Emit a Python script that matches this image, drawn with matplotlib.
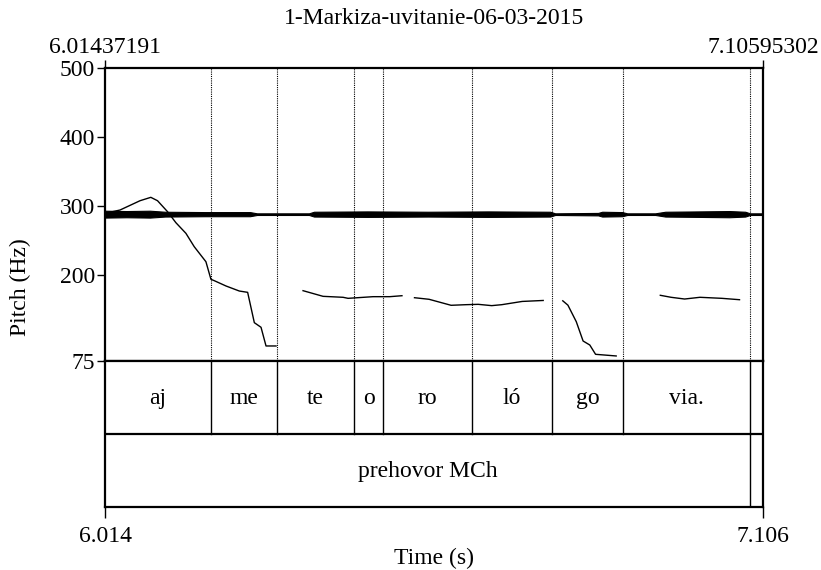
import matplotlib
matplotlib.use("Agg")
import matplotlib.pyplot as plt
import numpy as np

plt.rcParams['font.family'] = ['Liberation Serif', 'DejaVu Serif']

# ---------------- data ----------------
title = "1-Markiza-uvitanie-06-03-2015"
t_start = 6.01437191
t_end = 7.10595302

# syllable tier boundaries and labels
syl_bounds = [6.01437191, 6.1902, 6.2997, 6.4275, 6.4756, 6.6232, 6.7559, 6.8737, 7.0844, 7.10595302]
syl_labels = ["aj", "me", "te", "o", "ro", "ló", "go", "via.", ""]

# phrase tier
phr_bounds = [6.01437191, 7.0844, 7.10595302]
phr_labels = ["prehovor MCh", ""]

# pitch contour segments (time s, Hz)
pitch_segments = [
    ([6.0144, 6.0393, 6.0725, 6.0904, 6.1015, 6.1181, 6.1320, 6.1486, 6.1624, 6.1818, 6.1901, 6.1957, 6.2151, 6.2372, 6.2510, 6.2621, 6.2732, 6.2815, 6.2981],
     [289.2, 294.0, 307.5, 312.4, 307.5, 291.6, 275.6, 260.2, 240.8, 219.0, 193.5, 191.5, 183.8, 176.5, 174.6, 130.6, 123.9, 96.8, 96.8]),
    ([6.3429, 6.3761, 6.4093, 6.4176, 6.4591, 6.4868, 6.5070],
     [177.0, 168.8, 167.4, 165.9, 168.3, 168.3, 169.7]),
    ([6.5278, 6.5520, 6.5885, 6.6137, 6.6335, 6.6559, 6.6727, 6.7065, 6.7413],
     [166.8, 164.5, 155.8, 156.7, 157.2, 155.3, 156.7, 161.4, 162.8]),
    ([6.7738, 6.7823, 6.7962, 6.8075, 6.8186, 6.8282, 6.8624],
     [162.3, 156.0, 132.0, 104.0, 98.2, 84.7, 82.3]),
    ([6.9356, 6.9535, 6.9759, 7.0013, 7.0378, 7.0670],
     [170.3, 167.4, 164.9, 167.4, 165.9, 163.9]),
]

# noisy trace around ~288 Hz: centre and half-width envelope
noise_center = 288.0
noise_t = [6.0144, 6.0500, 6.0890, 6.1139, 6.1800, 6.2549, 6.2665, 6.3528, 6.3611, 6.4500,
           6.5500, 6.6500, 6.7529, 6.7612, 6.8325, 6.8392, 6.8724, 6.8807, 6.9272, 6.9438,
           7.0000, 7.0500, 7.0765, 7.0844, 7.1060]
noise_hw = [5.0, 4.5, 5.0, 3.5, 3.0, 3.0, 1.2, 1.2, 3.5, 4.0,
            3.5, 4.0, 3.5, 1.2, 1.8, 3.5, 3.0, 1.2, 1.2, 3.5,
            4.0, 4.5, 3.5, 1.2, 1.2]

yticks = [75, 200, 300, 400, 500]

# ---------------- figure ----------------
W, H = 821, 570
fig = plt.figure(figsize=(W / 100, H / 100), dpi=100)

def rect(x0, y0, x1, y1):
    return [x0 / W, 1 - y1 / H, (x1 - x0) / W, (y1 - y0) / H]

FS = 17
LW_FRAME = 1.6

axp = fig.add_axes(rect(105, 68, 763, 361))
axt = fig.add_axes(rect(105, 361, 763, 507))

for ax in (axp, axt):
    ax.set_xlim(t_start, t_end)
    for s in ax.spines.values():
        s.set_linewidth(LW_FRAME)

# pitch area
axp.set_ylim(75, 500)
axp.set_yticks(yticks)
axp.set_yticklabels([str(v) for v in yticks], fontsize=FS)
axp.tick_params(axis='y', direction='out', length=6, width=1.0, pad=1)
axp.set_xticks([t_start, t_end])
axp.set_xticklabels(["6.01437191", "7.10595302"], fontsize=FS)
axp.tick_params(axis='x', top=True, labeltop=True, bottom=False, labelbottom=False,
                direction='out', length=6, width=1.0, pad=1)

# dotted boundary lines in pitch area
for b in syl_bounds[1:-1]:
    axp.axvline(b, color='black', lw=0.8, ls=(0, (1, 1)))

# noise band
nt = np.array(noise_t)
nh = np.array(noise_hw)
axp.fill_between(nt, noise_center - nh, noise_center + nh, color='black', lw=0.8, edgecolor='black')

# pitch contour
for ts, fs in pitch_segments:
    axp.plot(ts, fs, color='black', lw=1.0)

# tier area
axt.set_ylim(0, 2)
axt.set_yticks([])
axt.axhline(1, color='black', lw=LW_FRAME)
for b in syl_bounds[1:-1]:
    axt.plot([b, b], [1, 2], color='black', lw=1.0)
for b in phr_bounds[1:-1]:
    axt.plot([b, b], [0, 1], color='black', lw=1.0)
for i, lab in enumerate(syl_labels):
    if lab:
        axt.text((syl_bounds[i] + syl_bounds[i + 1]) / 2, 1.48, lab, ha='center', va='center', fontsize=FS)
for i, lab in enumerate(phr_labels):
    if lab:
        axt.text((phr_bounds[i] + phr_bounds[i + 1]) / 2, 0.48, lab, ha='center', va='center', fontsize=FS)

axt.set_xticks([t_start, t_end])
axt.set_xticklabels(["6.014", "7.106"], fontsize=FS)
axt.tick_params(axis='x', direction='out', length=8, width=1.0, pad=6)
axt.set_xlabel("Time (s)", fontsize=FS, labelpad=0)

fig.text(20 / W, 1 - 287 / H, "Pitch (Hz)", rotation=90, ha='center', va='center', fontsize=FS)
fig.text(434 / W, 1 - 19 / H, title, ha='center', va='center', fontsize=FS)

fig.savefig("out.png", dpi=100)
